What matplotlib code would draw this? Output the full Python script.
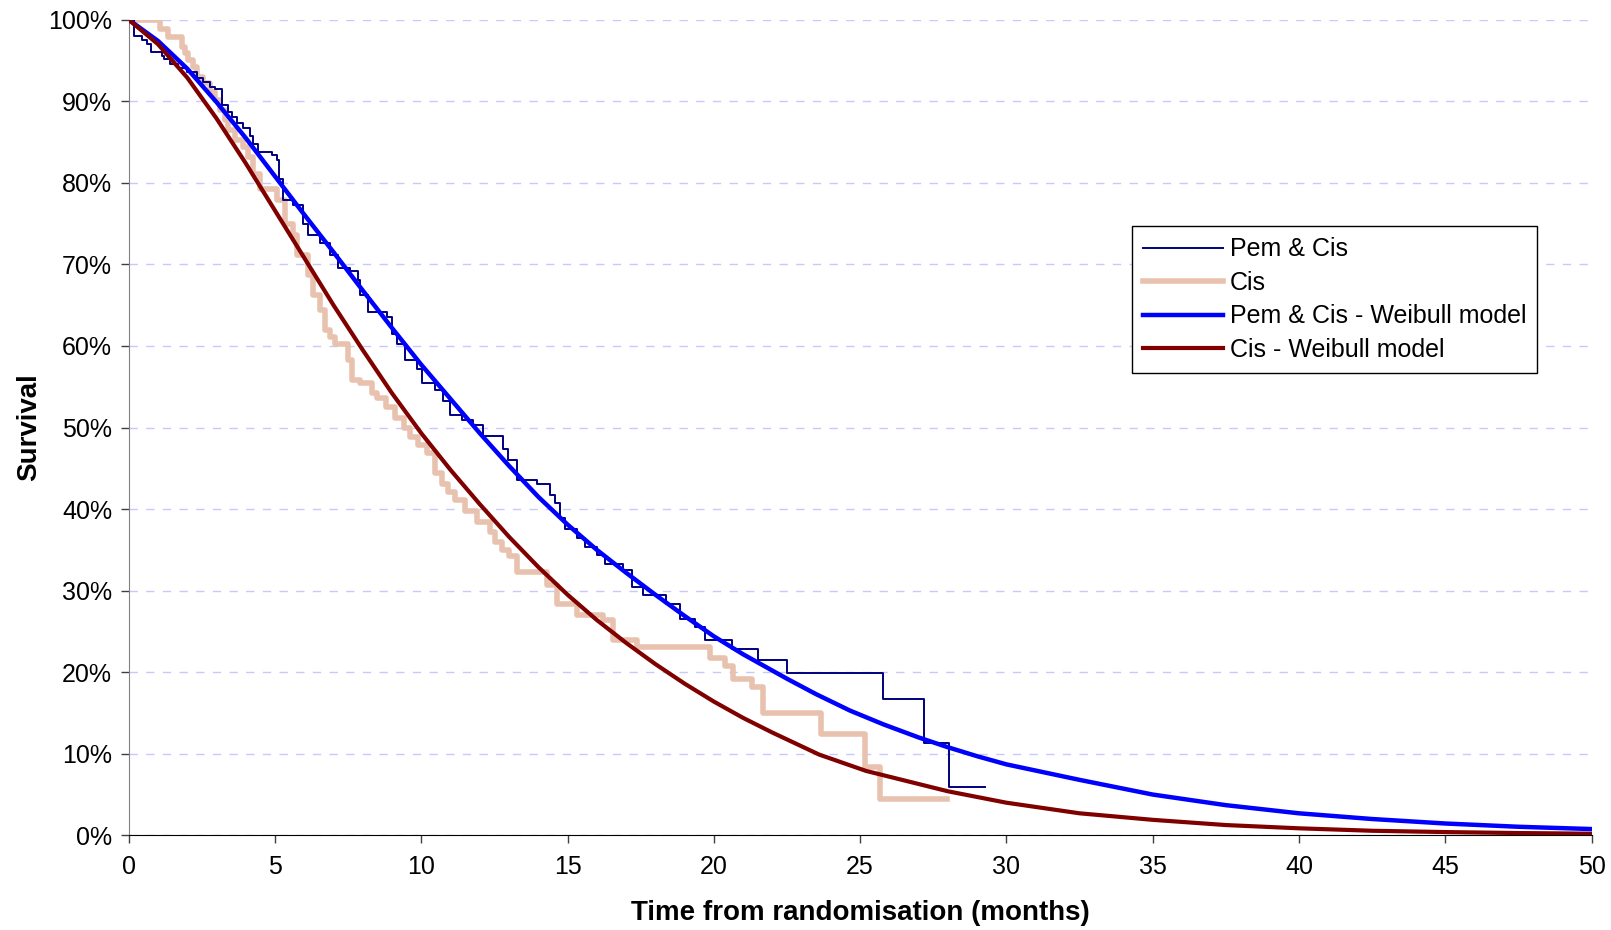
import numpy as np
import matplotlib.pyplot as plt

# --- Datos ----------------------------------------------------------------------------
# Kaplan-Meier Pem & Cis: tiempo del escalon (meses) y supervivencia (%) despues del escalon
pem_t = [0, 0.19, 0.44, 0.61, 0.76, 1.13, 1.22, 1.41, 1.70, 1.98, 2.32, 2.55, 2.78, 2.95,
         3.18, 3.40, 3.52, 3.69, 3.92, 4.15, 4.26, 4.43, 4.89, 5.06, 5.14, 5.28, 5.63, 5.97,
         6.14, 6.54, 6.88, 7.16, 7.56, 7.85, 7.90, 8.19, 8.82, 8.99, 9.16, 9.44, 9.84, 10.01,
         10.47, 10.75, 10.98, 11.38, 11.78, 12.12, 12.80, 12.97, 13.28, 13.94, 14.40, 14.57,
         14.74, 14.91, 15.31, 15.59, 15.99, 16.28, 16.90, 17.19, 17.59, 18.36, 18.86, 19.35,
         19.70, 20.61, 21.50, 22.49, 25.79, 27.18, 28.03]
pem_s = [100, 98.0, 97.5, 97.0, 96.1, 95.6, 95.2, 94.6, 94.1, 93.6, 92.9, 92.4, 91.8, 91.5,
         89.5, 88.7, 88.1, 87.3, 86.7, 85.8, 84.8, 83.8, 83.4, 82.8, 80.5, 77.9, 77.3, 75.0,
         73.6, 72.6, 71.1, 69.5, 69.2, 68.1, 66.2, 64.2, 63.6, 61.5, 60.3, 58.3, 57.2, 55.4,
         54.6, 53.2, 51.5, 50.9, 50.3, 48.9, 47.4, 46.0, 43.6, 43.1, 41.7, 40.7,
         38.9, 37.6, 36.4, 35.4, 34.4, 33.3, 32.5, 30.5, 29.5, 28.4, 26.5, 25.6,
         24.0, 22.9, 21.5, 19.9, 16.7, 11.3, 5.9]
pem_fin = 29.27

# Kaplan-Meier Cis
cis_t = [0, 1.07, 1.35, 1.81, 1.92, 2.04, 2.21, 2.32, 2.55, 2.78, 2.95, 3.12, 3.29, 3.40,
         3.63, 3.92, 4.09, 4.26, 4.49, 5.06, 5.34, 5.63, 5.74, 6.14, 6.31, 6.54, 6.71, 6.88,
         7.05, 7.51, 7.62, 7.90, 8.31, 8.47, 8.80, 9.10, 9.40, 9.60, 9.90, 10.20, 10.47, 10.70,
         10.92, 11.15, 11.50, 11.89, 12.35, 12.52, 12.75, 13.00, 13.26, 14.29, 14.63, 15.31,
         16.22, 16.56, 17.36, 19.87, 20.38, 20.66, 21.29, 21.69, 23.65, 25.16, 25.68]
cis_s = [100, 98.9, 97.9, 96.7, 95.9, 95.0, 94.2, 93.0, 92.2, 91.1, 90.1, 88.9, 87.7, 86.5,
         85.2, 84.4, 83.2, 81.1, 79.3, 77.9, 75.0, 73.6, 71.1, 68.7, 66.2, 64.4, 61.9, 61.1,
         60.3, 58.3, 55.8, 55.4, 54.2, 53.6, 52.5, 51.2, 50.0, 48.8, 47.8, 46.9, 44.4, 43.1,
         42.1, 41.1, 39.8, 38.4, 37.2, 36.0, 35.0, 34.2, 32.3, 30.7, 28.4, 27.0,
         26.4, 24.0, 23.1, 21.7, 20.7, 19.2, 18.2, 15.0, 12.4, 8.4, 4.5]
cis_fin = 27.96

# Modelos Weibull
wpem_t = [0, 1, 2, 3, 4, 5, 6, 7, 8, 9, 10, 11, 12, 13, 14, 15, 16, 17, 18, 19, 20, 21,
          22.5, 23.5, 24.65, 25.8, 27, 28, 29, 30, 32.5, 35, 37.5, 40, 42.5, 45, 47.5, 50]
wpem_s = [100, 97.4, 94.0, 89.9, 85.5, 80.8, 76.1, 71.5, 66.8, 62.2, 57.7, 53.5, 49.3,
          45.3, 41.5, 38.1, 35.0, 32.2, 29.5, 26.9, 24.4, 22.2, 19.2, 17.3, 15.3, 13.6,
          12.0, 10.8, 9.7, 8.7, 6.8, 5.0, 3.7, 2.7, 2.0, 1.45, 1.05, 0.77]
wcis_t = [0, 1, 2, 3, 4, 5, 6, 7, 8, 9, 10, 11, 12, 13, 14, 15, 16, 17, 18, 19, 20, 21,
          22, 23.6, 25.2, 28, 30, 32.5, 35, 37.5, 40, 42.5, 45, 47.5, 50]
wcis_s = [100, 97.0, 92.9, 87.9, 82.4, 76.6, 70.8, 65.0, 59.5, 54.2, 49.3, 44.8, 40.6,
          36.6, 32.9, 29.5, 26.4, 23.6, 21.0, 18.6, 16.4, 14.4, 12.6, 9.9, 7.9, 5.4, 4.0,
          2.7, 1.9, 1.26, 0.86, 0.56, 0.4, 0.28, 0.2]

x_ticks = np.arange(0, 51, 5)
y_ticks = np.arange(0, 101, 10)

# --- Grafico ---------------------------------------------------------------------------
plt.rcParams['font.family'] = ['Liberation Sans', 'DejaVu Sans']

fig = plt.figure(figsize=(16.11, 9.30), dpi=100)
ax = fig.add_axes([0.0799, 0.1018, 0.908, 0.877])

ax.step(pem_t + [pem_fin], pem_s + [pem_s[-1]], where='post', color='#000080', lw=1.4,
        label='Pem & Cis', zorder=3)
ax.step(cis_t + [cis_fin], cis_s + [cis_s[-1]], where='post', color='#E8C2AE', lw=4,
        label='Cis', zorder=2)
ax.plot(wpem_t, wpem_s, color='#0000FF', lw=3.2, label='Pem & Cis - Weibull model', zorder=4)
ax.plot(wcis_t, wcis_s, color='#800000', lw=3.0, label='Cis - Weibull model', zorder=4)

ax.set_xlim(0, 50)
ax.set_ylim(0, 100)
ax.set_xticks(x_ticks)
ax.set_yticks(y_ticks)
ax.set_yticklabels([f'{v}%' for v in y_ticks])
ax.tick_params(labelsize=18, length=6, width=1, color='#404040')
ax.tick_params(axis='x', pad=8)
ax.tick_params(axis='y', pad=6)

ax.grid(axis='y', color='#C8C8FF', ls=(0, (6, 6)), lw=1)
ax.set_axisbelow(True)
for s in ['top', 'right']:
    ax.spines[s].set_visible(False)
ax.spines['left'].set_color('#808080')
ax.spines['bottom'].set_color('black')

ax.set_xlabel('Time from randomisation (months)', fontsize=20, fontweight='bold', labelpad=15)
ax.set_ylabel('Survival', fontsize=20, fontweight='bold', labelpad=4)

leg = ax.legend(loc='upper right', bbox_to_anchor=(0.963, 0.747), borderaxespad=0,
                fontsize=18, fancybox=False, framealpha=1, edgecolor='black',
                handlelength=3.2, handletextpad=0.25, labelspacing=0.38, borderpad=0.45)
leg.get_frame().set_linewidth(1)

fig.savefig('out.png', dpi=100)
